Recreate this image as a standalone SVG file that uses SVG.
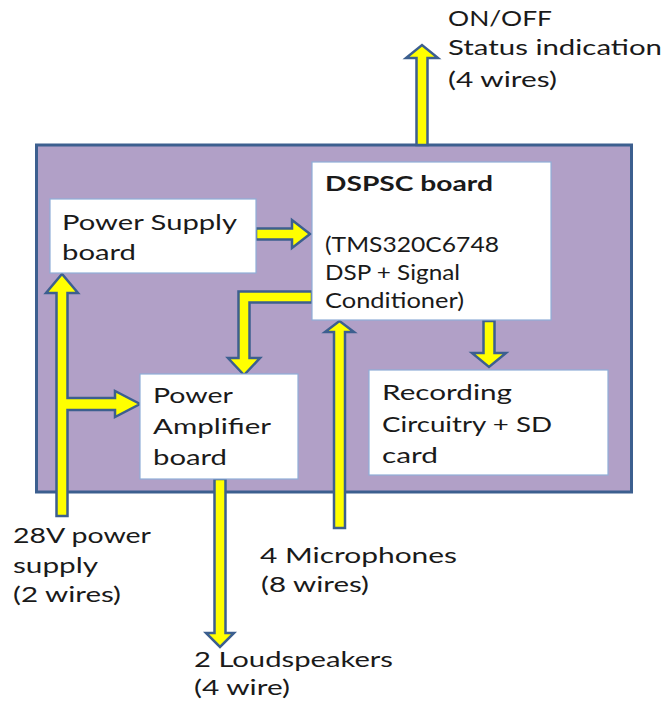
<svg xmlns="http://www.w3.org/2000/svg" width="669" height="704" viewBox="0 0 669 704">
<style>
.t{font-family:Lato,"Open Sans","Liberation Sans",sans-serif;font-size:21px;fill:#1a1a1a}
.b{font-weight:bold}
.box{fill:#ffffff;stroke:#8faed8;stroke-width:1.2}
.arr{fill:#ffff00;stroke:#3c5f8f;stroke-width:2.5;stroke-linejoin:miter}
</style>
<rect width="669" height="704" fill="#ffffff"/>
<g id="enclosure">
<rect x="36.5" y="145" width="595" height="347" fill="#b1a0c7" stroke="#3c5f8f" stroke-width="3"/>
</g>
<g id="connectors">
<polygon class="arr" points="416.5,145 416.5,58 406,58 422,45 438,58 427.5,58 427.5,145"/>
<polygon class="arr" points="256,228.5 292,228.5 292,220 310,234 292,248 292,239.5 256,239.5"/>
<polygon class="arr" points="312,291.5 238.5,291.5 238.5,358 228,358 244,375 260,358 249.5,358 249.5,302.5 312,302.5"/>
<polygon class="arr" points="483.5,321 483.5,353 472,353 489,367 506,353 494.5,353 494.5,321"/>
<polygon class="arr" points="334,528 334,332 325,332 339.5,321 354,332 345,332 345,528"/>
<polygon class="arr" points="214.5,479 214.5,633 206,633 220,647 234,633 225.5,633 225.5,479"/>
<polygon class="arr" points="56.5,516 56.5,293 46,293 62,274 78,293 67.5,293 67.5,398 115,398 115,391 140,404 115,417 115,410 67.5,410 67.5,516"/>
</g>
<g id="power-supply">
<rect class="box" x="50" y="199" width="206" height="74"/>
<text class="t" x="62" y="230" textLength="175" lengthAdjust="spacingAndGlyphs">Power Supply</text>
<text class="t" x="62" y="260" textLength="74" lengthAdjust="spacingAndGlyphs">board</text>
</g>
<g id="dspsc">
<rect class="box" x="312" y="162" width="239" height="158"/>
<text class="t b" x="325" y="191" textLength="168" lengthAdjust="spacingAndGlyphs">DSPSC board</text>
<text class="t" x="325" y="252" textLength="174" lengthAdjust="spacingAndGlyphs">(TMS320C6748</text>
<text class="t" x="325" y="280" textLength="135" lengthAdjust="spacingAndGlyphs">DSP + Signal</text>
<text class="t" x="325" y="308" textLength="139" lengthAdjust="spacingAndGlyphs">Conditioner)</text>
</g>
<g id="power-amplifier">
<rect class="box" x="140" y="374" width="158" height="105"/>
<text class="t" x="153" y="403" textLength="80" lengthAdjust="spacingAndGlyphs">Power</text>
<text class="t" x="153" y="434" textLength="118" lengthAdjust="spacingAndGlyphs">Amplifier</text>
<text class="t" x="153" y="465" textLength="74" lengthAdjust="spacingAndGlyphs">board</text>
</g>
<g id="recording">
<rect class="box" x="369" y="370" width="239" height="105"/>
<text class="t" x="382" y="400" textLength="130" lengthAdjust="spacingAndGlyphs">Recording</text>
<text class="t" x="382" y="432" textLength="170" lengthAdjust="spacingAndGlyphs">Circuitry + SD</text>
<text class="t" x="382" y="463" textLength="56" lengthAdjust="spacingAndGlyphs">card</text>
</g>
<g id="status-label">
<text class="t" x="448" y="26" textLength="104" lengthAdjust="spacingAndGlyphs">ON/OFF</text>
<text class="t" x="448" y="55" textLength="214" lengthAdjust="spacingAndGlyphs">Status indication</text>
<text class="t" x="448" y="87" textLength="109" lengthAdjust="spacingAndGlyphs">(4 wires)</text>
</g>
<g id="power-label">
<text class="t" x="13" y="543" textLength="138" lengthAdjust="spacingAndGlyphs">28V power</text>
<text class="t" x="13" y="573" textLength="85" lengthAdjust="spacingAndGlyphs">supply</text>
<text class="t" x="13" y="602" textLength="108" lengthAdjust="spacingAndGlyphs">(2 wires)</text>
</g>
<g id="microphones-label">
<text class="t" x="260" y="563" textLength="197" lengthAdjust="spacingAndGlyphs">4 Microphones</text>
<text class="t" x="261" y="592" textLength="108" lengthAdjust="spacingAndGlyphs">(8 wires)</text>
</g>
<g id="loudspeakers-label">
<text class="t" x="194" y="667" textLength="199" lengthAdjust="spacingAndGlyphs">2 Loudspeakers</text>
<text class="t" x="194" y="695" textLength="96" lengthAdjust="spacingAndGlyphs">(4 wire)</text>
</g>
</svg>
